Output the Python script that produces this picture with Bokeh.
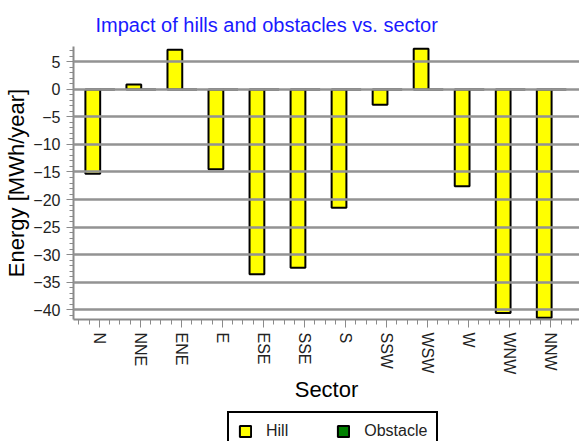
from bokeh.plotting import figure
from bokeh.layouts import column
from bokeh.models import (Range1d, FixedTicker, SingleIntervalTicker, ColumnDataSource,
                          Legend, LegendItem)
from bokeh.transform import dodge
from bokeh.embed import file_html
from bokeh.resources import INLINE

sectors = ["N", "NNE", "ENE", "E", "ESE", "SSE", "S", "SSW", "WSW", "W", "WNW", "NNW"]
hill = [-15.3, 0.9, 7.2, -14.5, -33.6, -32.4, -21.5, -2.8, 7.4, -17.6, -40.6, -41.5]
obstacle = [0, 0, 0, 0, 0, 0, 0, 0, 0, 0, 0, 0]

idx = list(range(len(sectors)))
src = ColumnDataSource(dict(x=idx, hill=hill, obstacle=obstacle))

FONT = "Liberation Sans"
HILL_COLOR = "#ffff00"
OBST_COLOR = "#008000"

p = figure(width=579, height=405, output_backend="svg", toolbar_location=None,
           x_range=Range1d(-0.63, 11.7), y_range=Range1d(-41.8, 7.8),
           min_border_left=73, min_border_right=0, min_border_top=45, min_border_bottom=86)
p.outline_line_color = None
p.background_fill_color = "white"
p.border_fill_color = "white"

# title
p.title.text = "Impact of hills and obstacles vs. sector"
p.title.text_font = FONT
p.title.text_font_size = "20px"
p.title.text_font_style = "normal"
p.title.text_color = "#1a1aff"
p.title.align = "left"
p.title.offset = 22
p.title.standoff = 22

p.vbar(x=dodge("x", -0.16, range=p.x_range), top="hill", width=0.36, source=src,
       fill_color=HILL_COLOR, line_color="black", line_width=2)
p.vbar(x=dodge("x", 0.2, range=p.x_range), top="obstacle", width=0.36, source=src,
       fill_color=OBST_COLOR, line_color="black", line_width=2)

# axes
xa = p.xaxis[0]
xa.ticker = FixedTicker(ticks=idx, minor_ticks=[i / 4 for i in range(-2, 47)])
xa.major_label_overrides = {i: s for i, s in enumerate(sectors)}
xa.major_label_orientation = "vertical"
xa.axis_label = "Sector"
ya = p.yaxis[0]
ya.ticker = SingleIntervalTicker(interval=5, num_minor_ticks=5)
ya.axis_label = "Energy [MWh/year]"

for ax in (xa, ya):
    ax.axis_line_color = "#8a8a8a"
    ax.axis_line_width = 2
    ax.major_tick_line_color = "#8a8a8a"
    ax.minor_tick_line_color = "#8a8a8a"
    ax.major_tick_line_width = 1
    ax.minor_tick_line_width = 1
    ax.major_tick_in = 0
    ax.minor_tick_in = 0
    ax.major_label_text_font = FONT
    ax.major_label_text_font_size = "16px"
    ax.major_label_text_color = "#222222"
    ax.axis_label_text_font = FONT
    ax.axis_label_text_font_size = "22px"
    ax.axis_label_text_font_style = "normal"
    ax.axis_label_text_color = "black"

xa.major_tick_out = 8
xa.minor_tick_out = 5
xa.major_label_standoff = 5
xa.axis_label_standoff = 0
ya.major_tick_out = 7
ya.minor_tick_out = 4
ya.major_label_standoff = 6
ya.axis_label_standoff = 1

p.xgrid.visible = False
p.ygrid.ticker = SingleIntervalTicker(interval=5)
p.ygrid.grid_line_color = "#939393"
p.ygrid.grid_line_width = 2.5
p.ygrid.level = "overlay"

# legend strip below the chart
lf = figure(width=579, height=36, output_backend="svg", toolbar_location=None,
            x_axis_type=None, y_axis_type=None, x_range=Range1d(0, 1), y_range=Range1d(0, 1),
            min_border=0, title=None)
lf.outline_line_color = None
lf.grid.visible = False
lf.border_fill_color = "white"
leg_hill = lf.vbar(x="x", top="hill", width=0.36, source=src,
                   fill_color=HILL_COLOR, line_color="black", line_width=2, visible=False)
leg_obst = lf.vbar(x="x", top="obstacle", width=0.36, source=src,
                   fill_color=OBST_COLOR, line_color="black", line_width=2, visible=False)

legend = Legend(items=[LegendItem(label="Hill", renderers=[leg_hill]),
                       LegendItem(label="Obstacle", renderers=[leg_obst])],
                location=(154, -10), orientation="horizontal",
                border_line_color="black", border_line_width=2, border_line_alpha=1,
                background_fill_color="white", background_fill_alpha=1,
                inactive_fill_alpha=0,
                label_text_font=FONT, label_text_font_size="16px",
                label_text_color="#222222",
                glyph_width=14, glyph_height=14, label_standoff=14, spacing=48,
                padding=9, margin=0)
lf.add_layout(legend, "center")

layout = column(p, lf, spacing=0)
open("out.html", "w").write(file_html(layout, INLINE))
